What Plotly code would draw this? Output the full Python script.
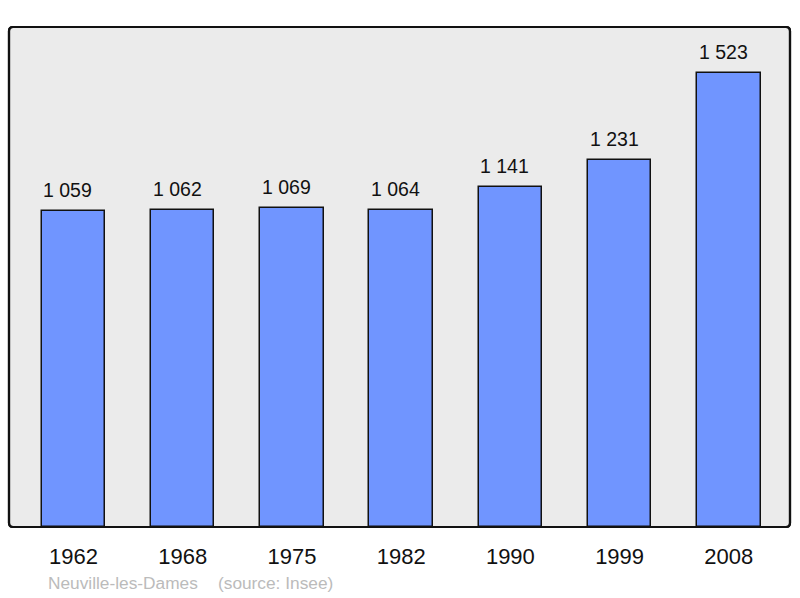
import plotly.graph_objects as go

years = ["1962", "1968", "1975", "1982", "1990", "1999", "2008"]
population = [1059, 1062, 1069, 1064, 1141, 1231, 1523]
value_labels = ["1 059", "1 062", "1 069", "1 064", "1 141", "1 231", "1 523"]
town = "Neuville-les-Dames"
source = "(source: Insee)"

W, H = 800, 598
L, R, T, B = 9, 9.5, 27, 70.5
pw, ph = W - L - R, H - T - B
FONT = "Liberation Sans, Arial, sans-serif"

fig = go.Figure()
fig.add_trace(go.Bar(
    x=list(range(len(years))), y=population,
    width=0.58,
    marker=dict(color="#7095FF", line=dict(color="#111111", width=1.5)),
    hoverinfo="skip",
))

for i, (v, lab) in enumerate(zip(population, value_labels)):
    fig.add_annotation(x=i, y=v, text=lab, showarrow=False, yanchor="bottom",
                       yshift=8, xshift=-5.5,
                       font=dict(size=19.5, color="#111111", family=FONT))

# rounded frame
rx, ry = 4 / pw, 4 / ph
path = (f"M {rx},0 L {1-rx},0 Q 1,0 1,{ry} L 1,{1-ry} Q 1,1 {1-rx},1 "
        f"L {rx},1 Q 0,1 0,{1-ry} L 0,{ry} Q 0,0 {rx},0 Z")
fig.add_shape(type="path", path=path, xref="paper", yref="paper",
              fillcolor="#EBEBEB", line=dict(color="#111111", width=2.2), layer="below")
fig.add_shape(type="path", path=path, xref="paper", yref="paper",
              fillcolor="rgba(0,0,0,0)", line=dict(color="#111111", width=2.2), layer="above")

fig.add_annotation(x=(46 - L) / pw, y=(T + ph - 583.5) / ph, xref="paper", yref="paper",
                   text=town, showarrow=False, xanchor="left", yanchor="middle",
                   font=dict(size=17.3, color="#BBBBBB", family=FONT))
fig.add_annotation(x=(216 - L) / pw, y=(T + ph - 583.5) / ph, xref="paper", yref="paper",
                   text=source, showarrow=False, xanchor="left", yanchor="middle",
                   font=dict(size=17.3, color="#BBBBBB", family=FONT))

fig.update_layout(
    width=W, height=H,
    margin=dict(l=L, r=R, t=T, b=B),
    paper_bgcolor="white", plot_bgcolor="rgba(0,0,0,0)",
    showlegend=False, bargap=0,
    xaxis=dict(range=[-0.59, 6.56], tickmode="array", tickvals=list(range(len(years))),
               ticktext=years, showgrid=False, zeroline=False, showline=False,
               ticks="outside", ticklen=10, tickcolor="rgba(0,0,0,0)",
               tickfont=dict(size=22, color="#111111", family=FONT),
               fixedrange=True),
    yaxis=dict(range=[0, 1677], showgrid=False, zeroline=False, showline=False,
               showticklabels=False, ticks="", fixedrange=True),
)

fig.write_html("out.html", config={"displayModeBar": False},
               post_script="document.body.style.margin='0';document.body.style.padding='0';")
